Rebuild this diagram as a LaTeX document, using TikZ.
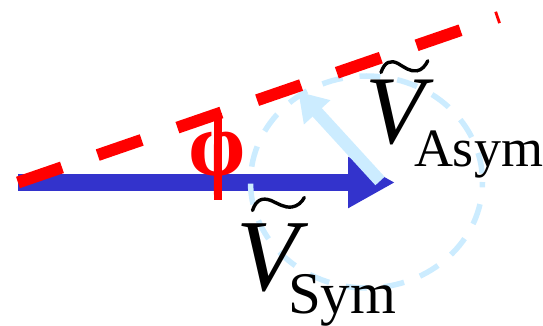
\documentclass[tikz,border=0pt]{standalone}
\usepackage{fontspec}
\setmainfont{Liberation Serif}
\usetikzlibrary{arrows.meta}
\definecolor{vblue}{RGB}{51,51,204}
\definecolor{vred}{RGB}{255,0,0}
\definecolor{vlight}{RGB}{204,236,255}
\begin{document}
\begin{tikzpicture}[x=1pt,y=-1pt,
  symarrow/.style={vblue, line width=16.7pt, -{Triangle[length=47pt,width=48pt]}},
  asymarrow/.style={vlight, line width=12.5pt, -{Triangle[length=28pt,width=34pt]}},
  refline/.style={vred, line width=12pt, dash pattern=on 46.5pt off 37.8pt},
  locus/.style={vlight, line width=5.5pt, dash pattern=on 21pt off 17pt, dash phase=29.5pt},
  tick/.style={vred, line width=8pt},
  tildemark/.style={black, line width=3.4pt, line cap=round},
  lbl/.style={inner sep=0pt, outer sep=0pt, text=black}]
\useasboundingbox (0,0) rectangle (543,326);
% coordinates
\coordinate (O) at (18,182.5);
\coordinate (T) at (395,182.5);
\coordinate (C) at (366.5,182);
\coordinate (Atail) at (380,181);
\coordinate (Atip) at (298.3,91.7);
\coordinate (Rend) at (498.9,17);
\coordinate (Ktop) at (217.5,113.4);
\coordinate (Kbot) at (217.5,200);
% drawing
\draw[symarrow] (O) -- (T);
\draw[locus] (C) ellipse [x radius=116pt, y radius=106pt];
\draw[asymarrow] (Atail) -- (Atip);
\draw[refline] (O) -- (Rend);
\draw[tick] (Ktop) -- (Kbot);
\node[lbl, text=vred, font=\fontsize{92}{92}\selectfont\bfseries] (phi) at (217.5,164) {φ};
% labels
\node[lbl, anchor=base west, font=\fontsize{97}{97}\selectfont\itshape] (VA) at (365,143.3) {V};
\node[lbl, anchor=base west, font=\fontsize{54}{54}\selectfont] (sA) at (414,166.7) {Asym};
\node[lbl, anchor=base west, font=\fontsize{102}{102}\selectfont\itshape] (VS) at (236,290) {V};
\node[lbl, anchor=base west, font=\fontsize{59}{59}\selectfont] (sS) at (288,313.5) {Sym};
% tilde accents
\draw[tildemark] (381,72.5) .. controls (384.5,62) and (390.5,59.5) .. (398,63.5)
  .. controls (404,67) and (410,72) .. (417,70.8) .. controls (422,70) and (425.5,65.5) .. (427.8,60.8);
\draw[tildemark] (252.5,210.5) .. controls (256,200) and (262,197) .. (271,200.5)
  .. controls (278,203.5) and (284,208) .. (292,207) .. controls (298,206) and (302,202) .. (304.3,197.5);
\end{tikzpicture}
\end{document}
